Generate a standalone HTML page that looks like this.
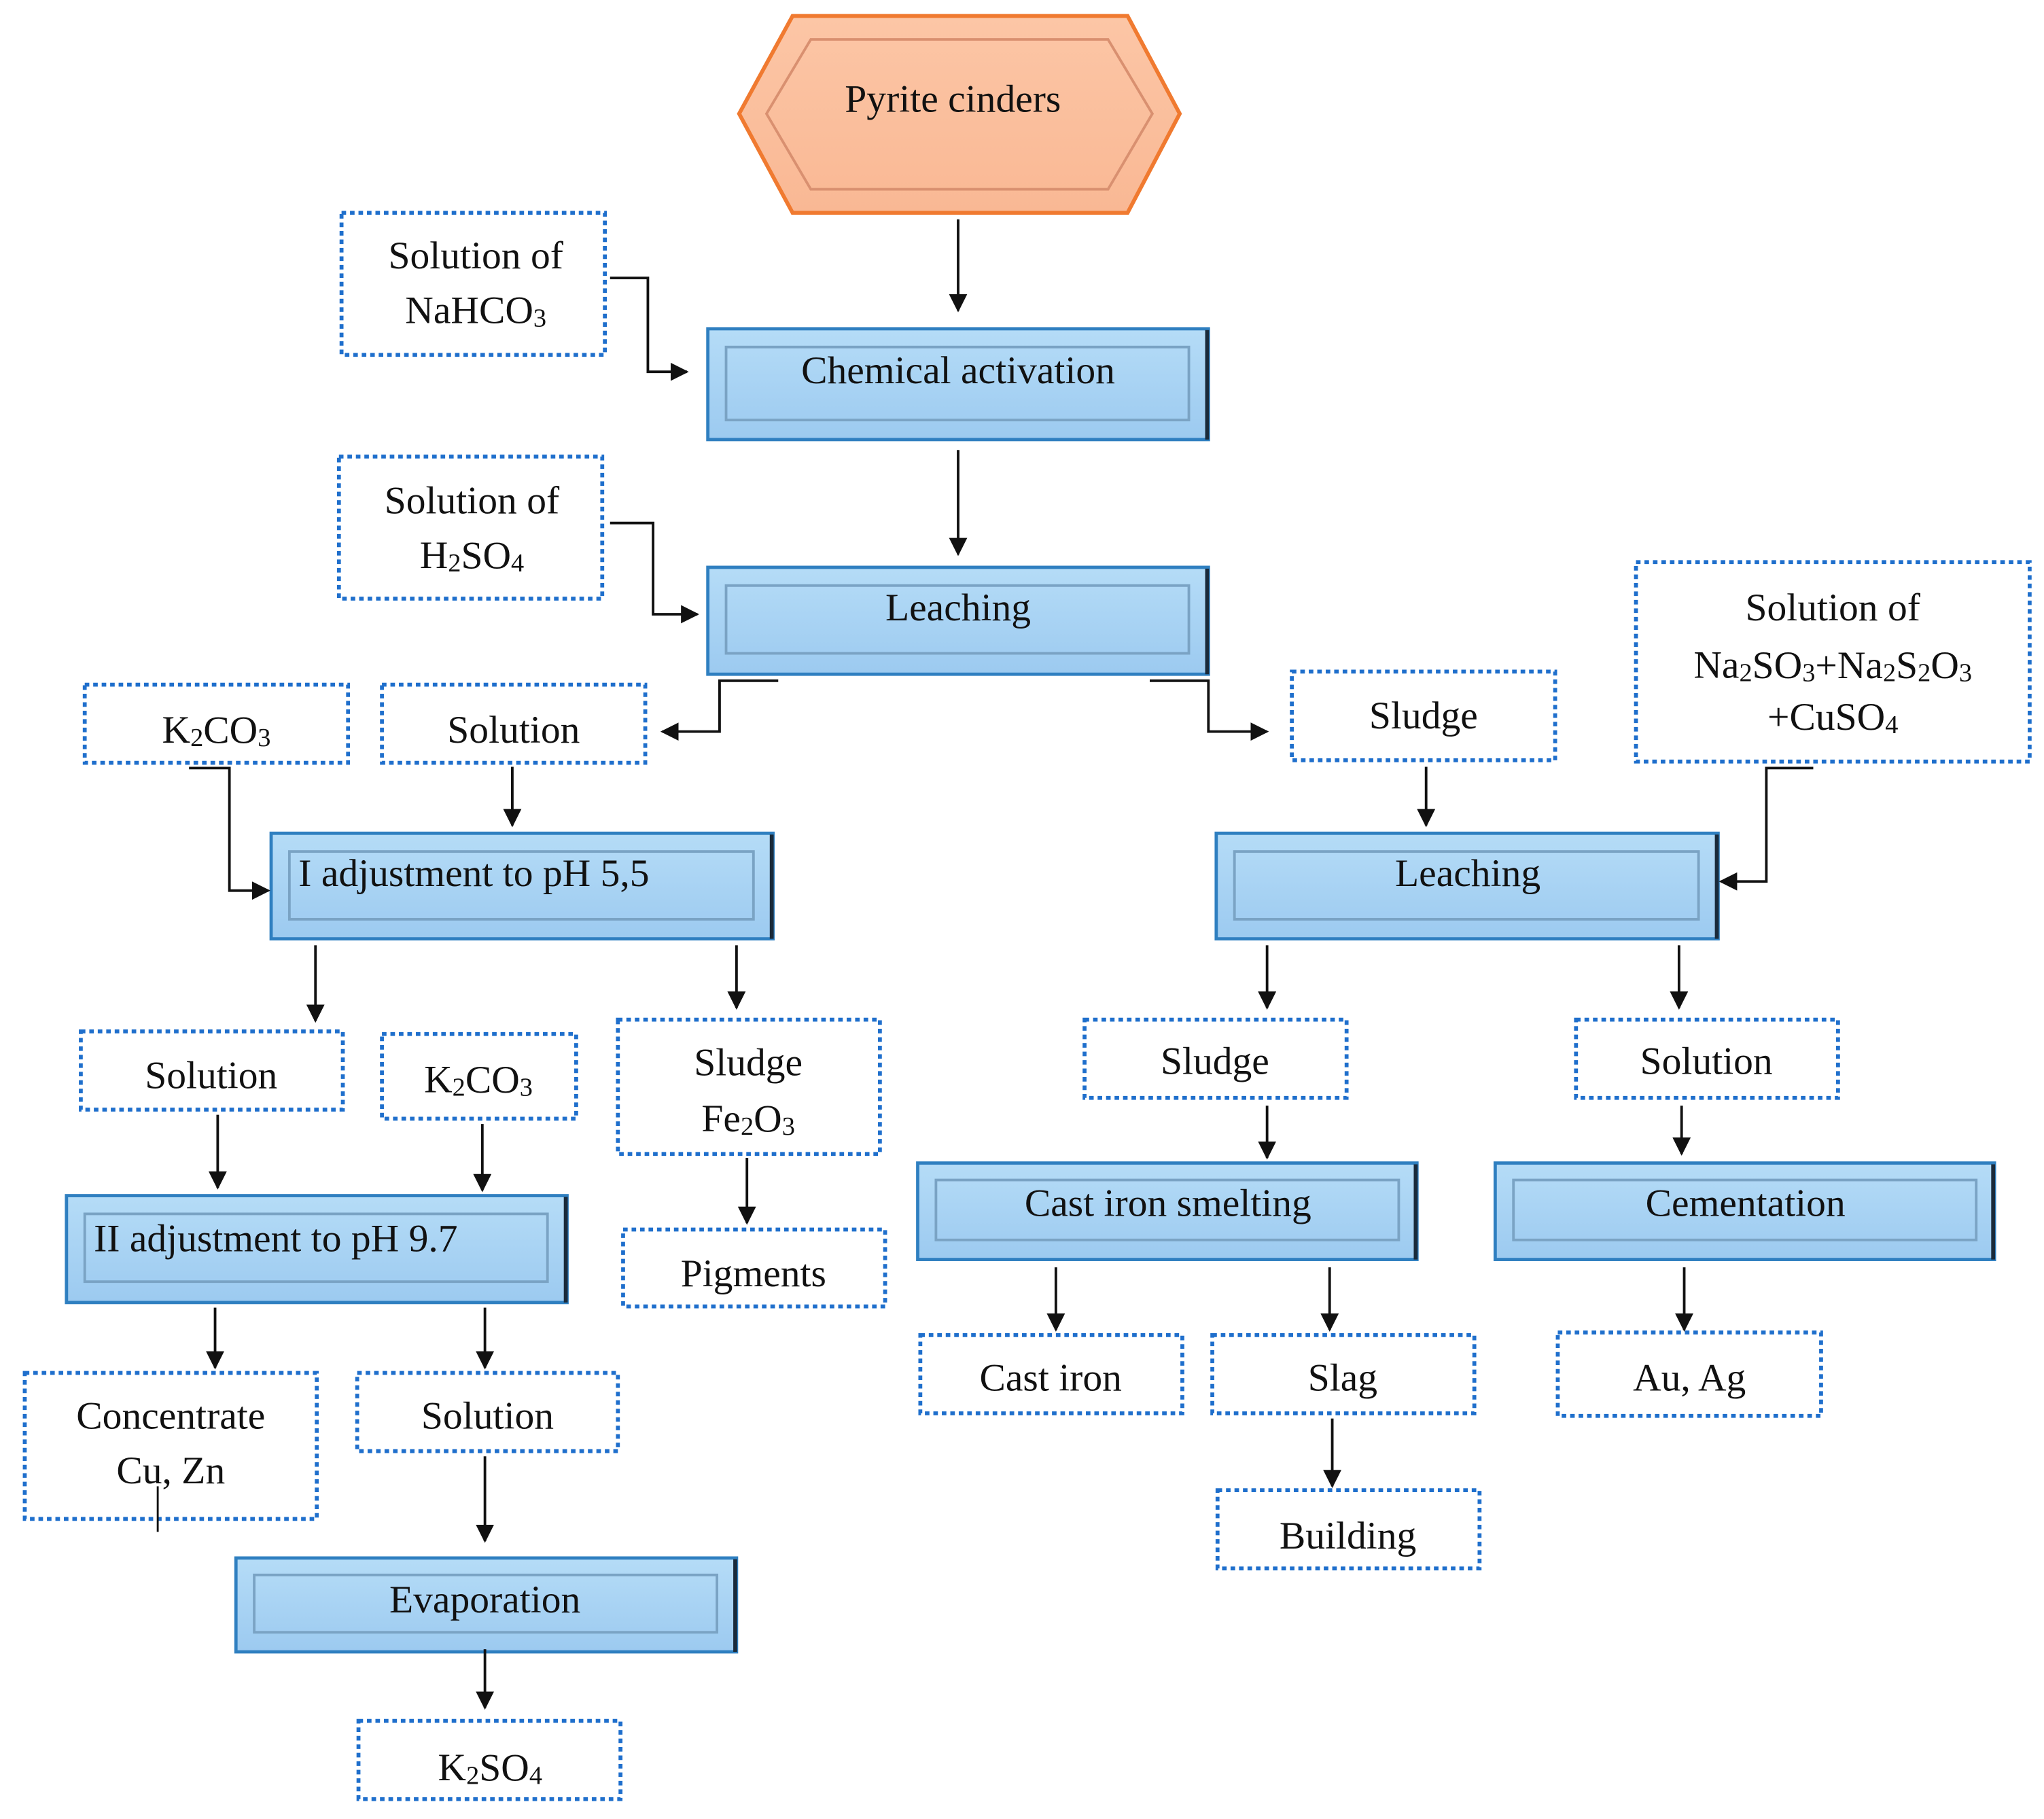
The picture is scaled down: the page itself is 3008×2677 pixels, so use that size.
<!DOCTYPE html>
<html><head><meta charset="utf-8"><style>
html,body{margin:0;padding:0;background:#fff;}
svg{display:block;}
text{font-family:"Liberation Serif",serif;font-size:30px;fill:#111;}
.d{fill:#fff;stroke:#1f6fcc;stroke-width:3;stroke-dasharray:3.5 3;}
.l{stroke:#111;stroke-width:2;fill:none;}
</style></head><body>
<svg width="3008" height="2677" viewBox="0 0 1568 1395" xmlns="http://www.w3.org/2000/svg">
<defs>
<linearGradient id="bg" x1="0" y1="0" x2="0" y2="1"><stop offset="0" stop-color="#b5dcf7"/><stop offset="1" stop-color="#9ccaf0"/></linearGradient>
<linearGradient id="og" x1="0" y1="0" x2="0" y2="1"><stop offset="0" stop-color="#fcc6a6"/><stop offset="1" stop-color="#f9b894"/></linearGradient>
<marker id="a" viewBox="0 0 10 10" refX="9" refY="5" markerWidth="7" markerHeight="7" orient="auto"><path d="M0,0L10,5L0,10z" fill="#111"/></marker>
</defs>

<polygon points="567,87 608,12 865,12 905,87 865,163 608,163" fill="url(#og)" stroke="#f07a30" stroke-width="3"/>
<polygon points="588,87 622,30 850,30 884,87 850,145 622,145" fill="none" stroke="#d99070" stroke-width="2"/>
<text x="731" y="76" text-anchor="middle" dominant-baseline="central">Pyrite cinders</text>

<g>
<rect x="543" y="252" width="384" height="85" fill="url(#bg)" stroke="#2f7fc0" stroke-width="2.5"/>
<rect x="557" y="266" width="355" height="56" fill="none" stroke="#7aa3c4" stroke-width="2"/>
<line x1="926" y1="253" x2="926" y2="337" stroke="#1a2a3a" stroke-width="3"/>
<text x="735" y="284" text-anchor="middle" dominant-baseline="central">Chemical activation</text>

<rect x="543" y="435" width="384" height="82" fill="url(#bg)" stroke="#2f7fc0" stroke-width="2.5"/>
<rect x="557" y="449" width="355" height="52" fill="none" stroke="#7aa3c4" stroke-width="2"/>
<line x1="926" y1="436" x2="926" y2="517" stroke="#1a2a3a" stroke-width="3"/>
<text x="735" y="466" text-anchor="middle" dominant-baseline="central">Leaching</text>

<rect x="208" y="639" width="385" height="81" fill="url(#bg)" stroke="#2f7fc0" stroke-width="2.5"/>
<rect x="222" y="653" width="356" height="52" fill="none" stroke="#7aa3c4" stroke-width="2"/>
<line x1="592" y1="640" x2="592" y2="720" stroke="#1a2a3a" stroke-width="3"/>
<text x="229" y="670" dominant-baseline="central">I adjustment to pH 5,5</text>

<rect x="933" y="639" width="385" height="81" fill="url(#bg)" stroke="#2f7fc0" stroke-width="2.5"/>
<rect x="947" y="653" width="356" height="52" fill="none" stroke="#7aa3c4" stroke-width="2"/>
<line x1="1317" y1="640" x2="1317" y2="720" stroke="#1a2a3a" stroke-width="3"/>
<text x="1126" y="670" text-anchor="middle" dominant-baseline="central">Leaching</text>

<rect x="51" y="917" width="384" height="82" fill="url(#bg)" stroke="#2f7fc0" stroke-width="2.5"/>
<rect x="65" y="931" width="355" height="52" fill="none" stroke="#7aa3c4" stroke-width="2"/>
<line x1="434" y1="918" x2="434" y2="999" stroke="#1a2a3a" stroke-width="3"/>
<text x="72" y="950" dominant-baseline="central">II adjustment to pH 9.7</text>

<rect x="704" y="892" width="383" height="74" fill="url(#bg)" stroke="#2f7fc0" stroke-width="2.5"/>
<rect x="718" y="905" width="355" height="46" fill="none" stroke="#7aa3c4" stroke-width="2"/>
<line x1="1086" y1="893" x2="1086" y2="966" stroke="#1a2a3a" stroke-width="3"/>
<text x="896" y="923" text-anchor="middle" dominant-baseline="central">Cast iron smelting</text>

<rect x="1147" y="892" width="383" height="74" fill="url(#bg)" stroke="#2f7fc0" stroke-width="2.5"/>
<rect x="1161" y="905" width="355" height="46" fill="none" stroke="#7aa3c4" stroke-width="2"/>
<line x1="1529" y1="893" x2="1529" y2="966" stroke="#1a2a3a" stroke-width="3"/>
<text x="1339" y="923" text-anchor="middle" dominant-baseline="central">Cementation</text>

<rect x="181" y="1195" width="384" height="72" fill="url(#bg)" stroke="#2f7fc0" stroke-width="2.5"/>
<rect x="195" y="1208" width="355" height="44" fill="none" stroke="#7aa3c4" stroke-width="2"/>
<line x1="564" y1="1196" x2="564" y2="1267" stroke="#1a2a3a" stroke-width="3"/>
<text x="372" y="1227" text-anchor="middle" dominant-baseline="central">Evaporation</text>
</g>

<rect class="d" x="262" y="163" width="202" height="109"/>
<text x="365" y="196" text-anchor="middle" dominant-baseline="central">Solution of</text>
<text x="365" y="238" text-anchor="middle" dominant-baseline="central">NaHCO<tspan font-size="20" dy="6">3</tspan></text>

<rect class="d" x="260" y="350" width="202" height="109"/>
<text x="362" y="384" text-anchor="middle" dominant-baseline="central">Solution of</text>
<text x="362" y="426" text-anchor="middle" dominant-baseline="central">H<tspan font-size="20" dy="6">2</tspan><tspan dy="-6">SO</tspan><tspan font-size="20" dy="6">4</tspan></text>

<rect class="d" x="65" y="525" width="202" height="60"/>
<text x="166" y="560" text-anchor="middle" dominant-baseline="central">K<tspan font-size="20" dy="6">2</tspan><tspan dy="-6">CO</tspan><tspan font-size="20" dy="6">3</tspan></text>

<rect class="d" x="293" y="525" width="202" height="60"/>
<text x="394" y="560" text-anchor="middle" dominant-baseline="central">Solution</text>

<rect class="d" x="991" y="515" width="202" height="68"/>
<text x="1092" y="549" text-anchor="middle" dominant-baseline="central">Sludge</text>

<rect class="d" x="1255" y="431" width="302" height="153"/>
<text x="1406" y="466" text-anchor="middle" dominant-baseline="central">Solution of</text>
<text x="1406" y="510" text-anchor="middle" dominant-baseline="central">Na<tspan font-size="20" dy="6">2</tspan><tspan dy="-6">SO</tspan><tspan font-size="20" dy="6">3</tspan><tspan dy="-6">+Na</tspan><tspan font-size="20" dy="6">2</tspan><tspan dy="-6">S</tspan><tspan font-size="20" dy="6">2</tspan><tspan dy="-6">O</tspan><tspan font-size="20" dy="6">3</tspan></text>
<text x="1406" y="550" text-anchor="middle" dominant-baseline="central">+CuSO<tspan font-size="20" dy="6">4</tspan></text>

<rect class="d" x="62" y="791" width="201" height="60"/>
<text x="162" y="825" text-anchor="middle" dominant-baseline="central">Solution</text>

<rect class="d" x="293" y="793" width="149" height="65"/>
<text x="367" y="828" text-anchor="middle" dominant-baseline="central">K<tspan font-size="20" dy="6">2</tspan><tspan dy="-6">CO</tspan><tspan font-size="20" dy="6">3</tspan></text>

<rect class="d" x="474" y="782" width="201" height="103"/>
<text x="574" y="815" text-anchor="middle" dominant-baseline="central">Sludge</text>
<text x="574" y="858" text-anchor="middle" dominant-baseline="central">Fe<tspan font-size="20" dy="6">2</tspan><tspan dy="-6">O</tspan><tspan font-size="20" dy="6">3</tspan></text>

<rect class="d" x="832" y="782" width="201" height="60"/>
<text x="932" y="814" text-anchor="middle" dominant-baseline="central">Sludge</text>

<rect class="d" x="1209" y="782" width="201" height="60"/>
<text x="1309" y="814" text-anchor="middle" dominant-baseline="central">Solution</text>

<rect class="d" x="478" y="943" width="201" height="59"/>
<text x="578" y="977" text-anchor="middle" dominant-baseline="central">Pigments</text>

<rect class="d" x="19" y="1053" width="224" height="112"/>
<text x="131" y="1086" text-anchor="middle" dominant-baseline="central">Concentrate</text>
<text x="131" y="1128" text-anchor="middle" dominant-baseline="central">Cu, Zn</text>
<line x1="121" y1="1140" x2="121" y2="1175" stroke="#111" stroke-width="1.5"/>

<rect class="d" x="274" y="1053" width="200" height="60"/>
<text x="374" y="1086" text-anchor="middle" dominant-baseline="central">Solution</text>

<rect class="d" x="706" y="1024" width="201" height="60"/>
<text x="806" y="1057" text-anchor="middle" dominant-baseline="central">Cast iron</text>

<rect class="d" x="930" y="1024" width="201" height="60"/>
<text x="1030" y="1057" text-anchor="middle" dominant-baseline="central">Slag</text>

<rect class="d" x="1195" y="1022" width="202" height="64"/>
<text x="1296" y="1057" text-anchor="middle" dominant-baseline="central">Au, Ag</text>

<rect class="d" x="934" y="1143" width="201" height="60"/>
<text x="1034" y="1178" text-anchor="middle" dominant-baseline="central">Building</text>

<rect class="d" x="275" y="1320" width="201" height="60"/>
<text x="376" y="1356" text-anchor="middle" dominant-baseline="central">K<tspan font-size="20" dy="6">2</tspan><tspan dy="-6">SO</tspan><tspan font-size="20" dy="6">4</tspan></text>

<g class="l" marker-end="url(#a)">
<path d="M735,168V238"/>
<path d="M468,213H497V285H527"/>
<path d="M735,345V425"/>
<path d="M468,401H501V471H535"/>
<path d="M597,522H552V561H508"/>
<path d="M882,522H927V561H972"/>
<path d="M393,588V633"/>
<path d="M145,589H176V683H206"/>
<path d="M1094,588V633"/>
<path d="M1391,589H1355V676H1320"/>
<path d="M242,725V783"/>
<path d="M565,725V773"/>
<path d="M972,725V773"/>
<path d="M1288,725V773"/>
<path d="M167,855V911"/>
<path d="M370,862V913"/>
<path d="M573,888V938"/>
<path d="M972,848V888"/>
<path d="M1290,848V885"/>
<path d="M165,1003V1049"/>
<path d="M372,1003V1049"/>
<path d="M810,972V1020"/>
<path d="M1020,972V1020"/>
<path d="M1292,972V1020"/>
<path d="M372,1117V1182"/>
<path d="M1022,1088V1140"/>
<path d="M372,1265V1310"/>
</g>
</svg>
</body></html>
